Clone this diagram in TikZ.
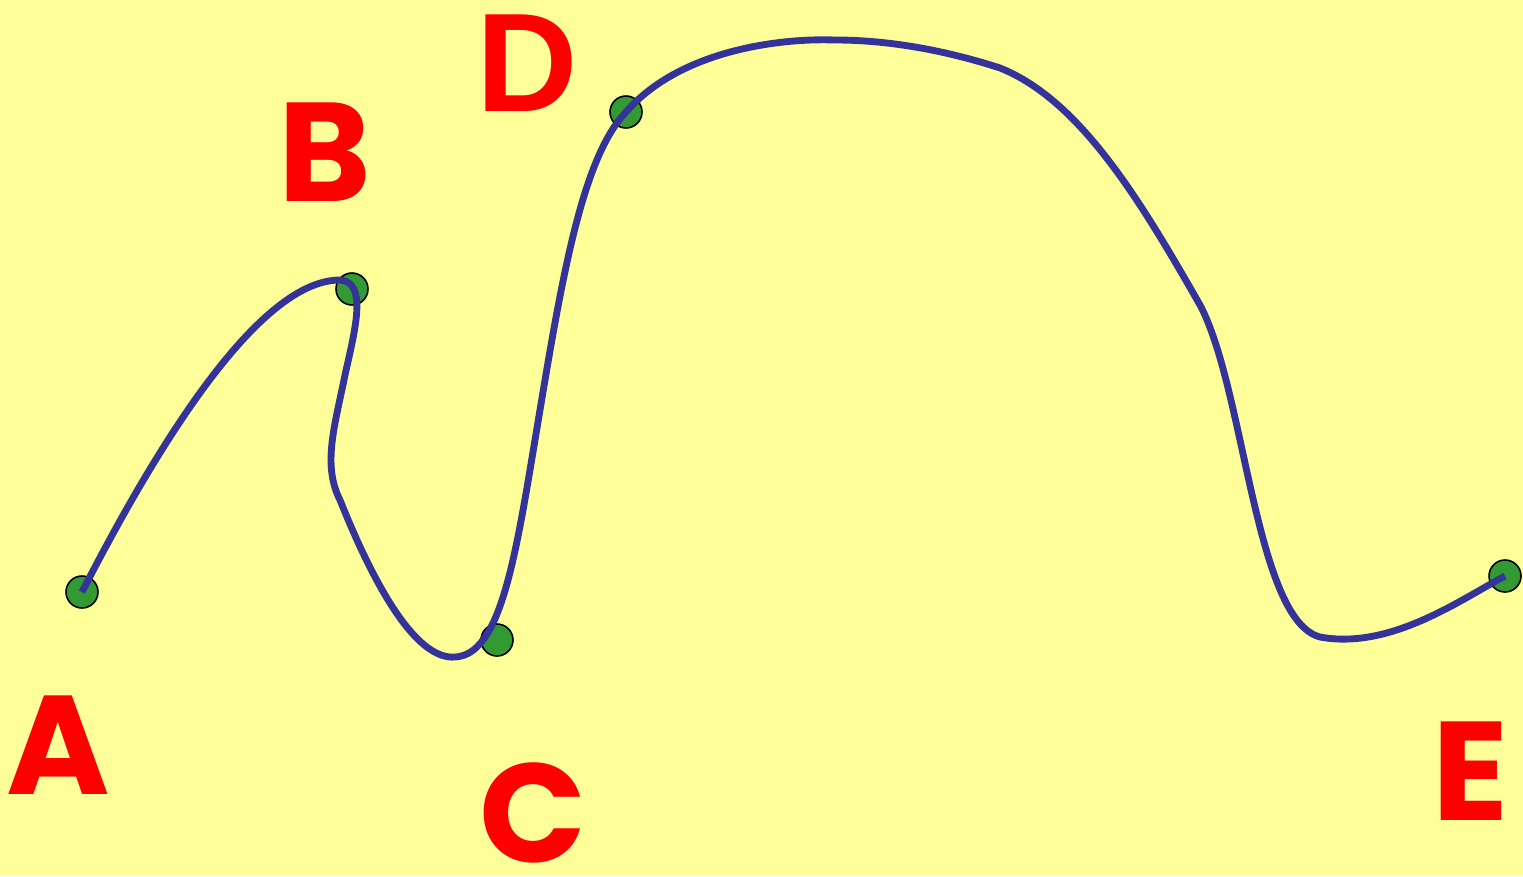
\documentclass[tikz,border=0pt]{standalone}
\usepackage{fontspec}
\setmainfont{Liberation Sans}
\newfontfamily\roundfont{Poppins}
\definecolor{paper}{HTML}{FFFF99}
\definecolor{curveblue}{HTML}{333399}
\definecolor{dotgreen}{HTML}{339933}
\tikzset{
  pt/.style={circle, draw=black, line width=0.9pt, fill=dotgreen, minimum size=0.64cm, inner sep=0pt},
  lab/.style={text=red, font=\roundfont\bfseries\fontsize{80}{80}\selectfont, inner sep=0pt}
}
\begin{document}
\begin{tikzpicture}[x=0.02cm, y=-0.02cm]

        % Background
        \fill[paper] (0,0) rectangle (1523,876);
        \useasboundingbox (0,0) rectangle (1523,876);
        % Vertices
        \node[pt](A) at (82,592){};
        \node[pt](B) at (352,289){};
        \node[pt](C) at (497,640){};
        \node[pt](D) at (626,112){};
        \node[pt](E) at (1505,576){};
        % Labels
        \node[lab](labA) at (58,745){A};
        \node[lab](labB) at (325,152){B};
        \node[lab](labC) at (533,813){C};
        \node[lab, font=\bfseries\fontsize{80}{80}\selectfont](labD) at (527,63){D};
        \node[lab](labE) at (1470,771){E};
        % Curve
        \coordinate (topB) at (340,280);
        \coordinate (midB) at (345,375);
        \coordinate (knee) at (340,500);
        \coordinate (lowC) at (455,657);
        \coordinate (upC) at (535,440);
        \coordinate (topD) at (835,40);
        \coordinate (shoulder) at (1000,68);
        \coordinate (slope) at (1200,305);
        \coordinate (lowE) at (1320,637);
        \draw[curveblue, line width=3.9pt, line join=round]
          (A.center) .. controls (160,440) and (260,280) .. (topB)
          .. controls (368,282) and (355,330) .. (midB)
          .. controls (335,425) and (322,465) .. (knee)
          .. controls (380,600) and (420,660) .. (lowC)
          .. controls (500,655) and (515,560) .. (upC)
          .. controls (560,290) and (580,160) .. (D.center)
          .. controls (680,50) and (780,38) .. (topD)
          .. controls (900,40) and (960,55) .. (shoulder)
          .. controls (1080,100) and (1140,200) .. (slope)
          .. controls (1245,390) and (1255,620) .. (lowE)
          .. controls (1390,650) and (1460,600) .. (E.center);

\end{tikzpicture}
\end{document}
